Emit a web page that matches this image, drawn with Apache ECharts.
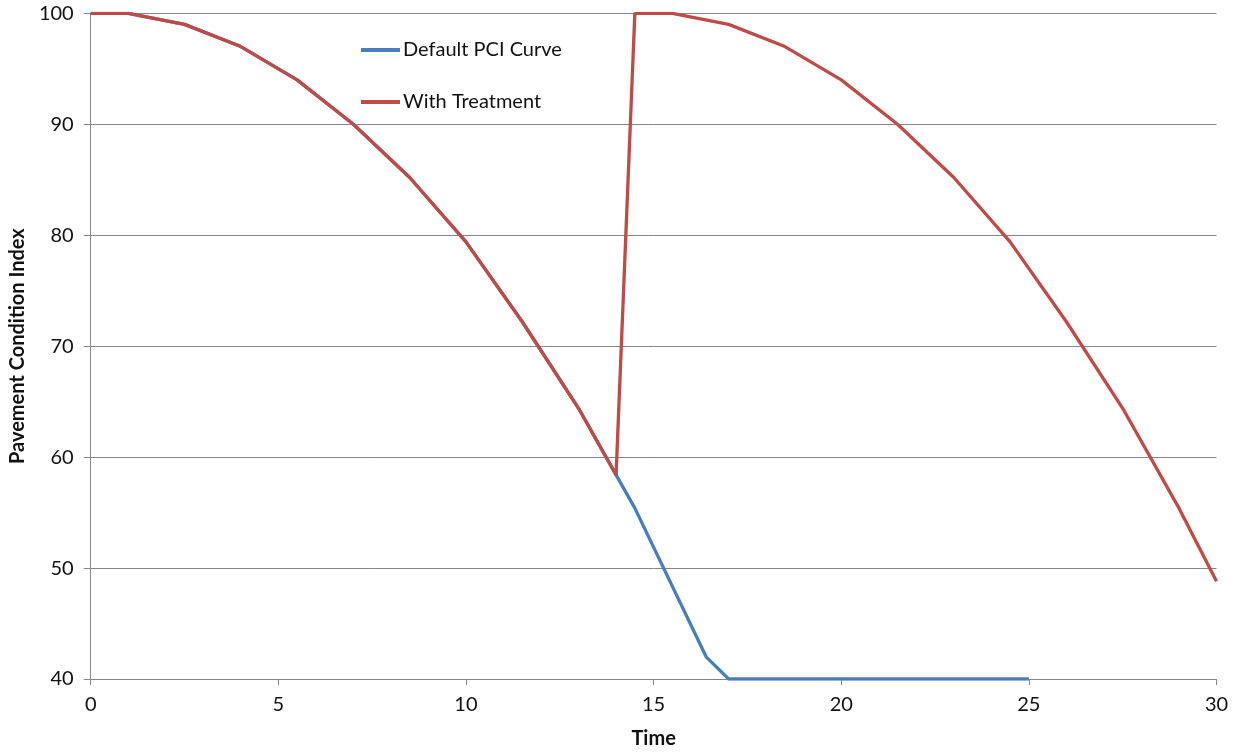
<!DOCTYPE html>
<html>
<head>
<meta charset="utf-8">
<script src="https://cdn.jsdelivr.net/npm/echarts@6/dist/echarts.min.js"></script>
<style>
html,body{margin:0;padding:0;background:#fff;}
#chart{width:1238px;height:754px;}
</style>
</head>
<body>
<div id="chart"></div>
<script>
// Default PCI curve
var defaultTime = [0, 1, 2.5, 4, 5.5, 7, 8.5, 10, 11.5, 13, 14, 14.5, 16.4, 17, 25];
var defaultPCI  = [100, 100, 99, 97, 94, 90, 85.2, 79.4, 72.2, 64.4, 58.4, 55.4, 42, 40, 40];
// With treatment curve
var treatTime = [0, 1, 2.5, 4, 5.5, 7, 8.5, 10, 11.5, 13, 14, 14.5, 15.5, 17, 18.5, 20, 21.5, 23, 24.5, 26, 27.5, 29, 30];
var treatPCI  = [100, 100, 99, 97, 94, 90, 85.2, 79.4, 72.2, 64.4, 58.4, 100, 100, 99, 97, 94, 90, 85.2, 79.4, 72.2, 64.4, 55.4, 48.8];
var seriesNames = ['Default PCI Curve', 'With Treatment'];
var xTitle = 'Time';
var yTitle = 'Pavement Condition Index';

function pairs(xs, ys){ return xs.map(function(x,i){ return [x, ys[i]]; }); }

var font = 'Lato, "Open Sans", sans-serif';
var chart = echarts.init(document.getElementById('chart'));
chart.setOption({
  animation: false,
  backgroundColor: '#ffffff',
  textStyle: { fontFamily: font },
  grid: { left: 90, right: 21.5, top: 13.3, bottom: 70, containLabel: false },
  legend: {
    orient: 'vertical',
    left: 356, top: 33,
    icon: 'rect',
    itemWidth: 39, itemHeight: 4,
    itemGap: 28,
    textStyle: { fontSize: 20, lineHeight: 24, color: '#111', fontFamily: font, padding: [0,0,0,-2] },
    data: seriesNames
  },
  xAxis: {
    type: 'value', min: 0, max: 30, interval: 5,
    name: xTitle, nameLocation: 'middle', nameGap: 50,
    nameTextStyle: { fontSize: 20, fontWeight: 'bold', color: '#111', fontFamily: font },
    axisLine: { show: true, lineStyle: { color: '#868686', width: 1 } },
    axisTick: { show: true, length: 6, lineStyle: { color: '#868686' } },
    axisLabel: { fontSize: 20, color: '#111', margin: 16, fontFamily: font },
    splitLine: { show: false }
  },
  yAxis: {
    type: 'value', min: 40, max: 100, interval: 10,
    name: yTitle, nameLocation: 'middle', nameGap: 61, nameRotate: 90,
    nameTextStyle: { fontSize: 20, fontWeight: 'bold', color: '#111', fontFamily: font },
    axisLine: { show: true, lineStyle: { color: '#868686', width: 1 } },
    axisTick: { show: true, length: 7, lineStyle: { color: '#868686' } },
    axisLabel: { fontSize: 20, color: '#111', margin: 17, fontFamily: font },
    splitLine: { show: true, lineStyle: { color: '#868686', width: 1 } }
  },
  series: [
    {
      name: seriesNames[0], type: 'line', symbol: 'none',
      data: pairs(defaultTime, defaultPCI),
      lineStyle: { color: '#4A7EBB', width: 3.3 }, itemStyle: { color: '#4A7EBB' }
    },
    {
      name: seriesNames[1], type: 'line', symbol: 'none',
      data: pairs(treatTime, treatPCI),
      lineStyle: { color: '#BE4B48', width: 3.3 }, itemStyle: { color: '#BE4B48' }
    }
  ]
});
</script>
</body>
</html>
